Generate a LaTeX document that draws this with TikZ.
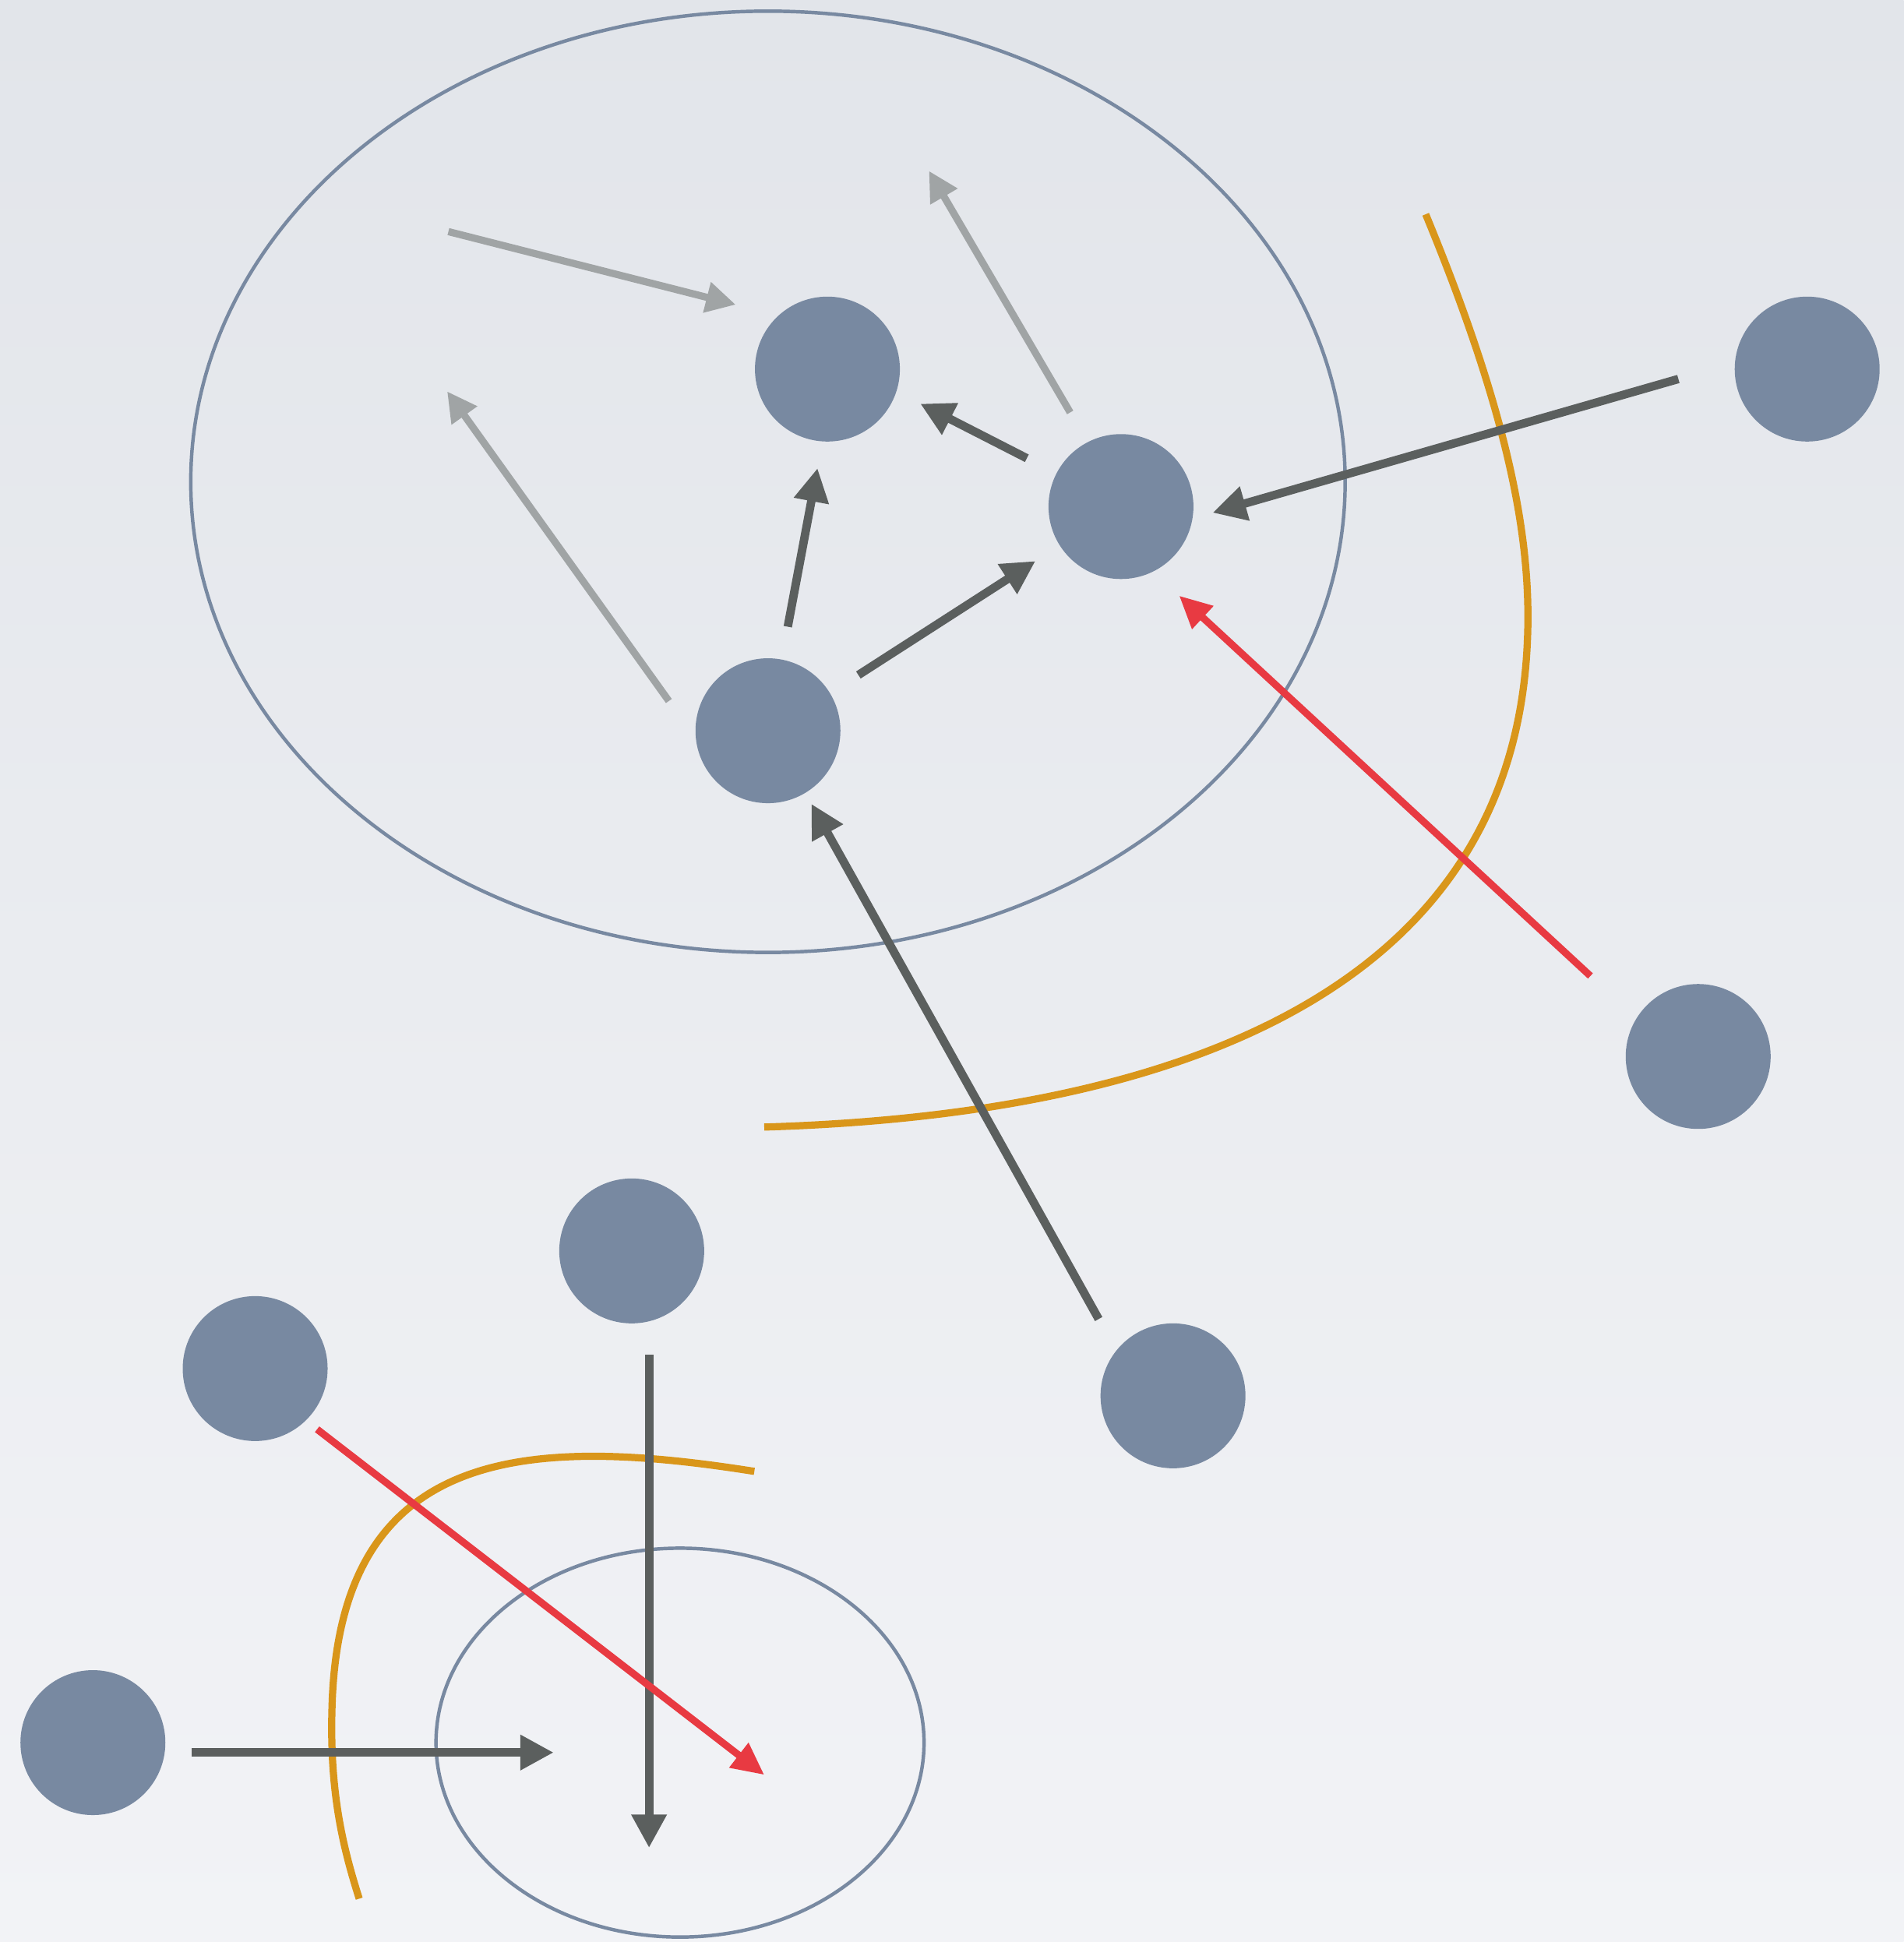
\documentclass[tikz,border=0pt]{standalone}
\usetikzlibrary{arrows.meta}
\definecolor{nodecol}{RGB}{120,137,161}
\definecolor{darkar}{RGB}{91,95,94}
\definecolor{greyar}{RGB}{160,164,165}
\definecolor{redar}{RGB}{232,58,66}
\definecolor{orangec}{RGB}{217,150,26}
\definecolor{bgtop}{RGB}{226,229,234}
\definecolor{bgbot}{RGB}{242,243,246}
\tikzset{
  dot/.style={circle, fill=nodecol, minimum size=117pt, inner sep=0pt, draw=none},
  darkarrow/.style={draw=darkar, line width=6.8pt, -{Triangle[length=27pt,width=27pt]}},
  greyarrow/.style={draw=greyar, line width=5.8pt, -{Triangle[length=24pt,width=24pt]}},
  redarrow/.style={draw=redar, line width=5.8pt, -{Triangle[length=26pt,width=24pt]}},
  bound/.style={draw=orangec, line width=5.8pt},
  region/.style={draw=nodecol, line width=2.8pt},
}
\begin{document}
\begin{tikzpicture}[x=1pt,y=-1pt]
\shade[top color=bgtop, bottom color=bgbot] (0,0) rectangle (1537,1568);
\useasboundingbox (0,0) rectangle (1537,1568);
% regions
\draw[region] (620,389) ellipse [x radius=466, y radius=380];
\draw[region] (549,1407) ellipse [x radius=197, y radius=157];
% nodes
\node[dot] (A) at (668,298) {};
\node[dot] (B) at (905,409) {};
\node[dot] (C) at (620,590) {};
\node[dot] (D) at (1459,298) {};
\node[dot] (E) at (1371,853) {};
\node[dot] (F) at (510,1010) {};
\node[dot] (G) at (206,1105) {};
\node[dot] (H) at (947,1127) {};
\node[dot] (I) at (75,1407) {};
% endpoints
\coordinate (ca1) at (636,506); \coordinate (ca2) at (660,378);
\coordinate (cb1) at (693,545); \coordinate (cb2) at (836,453);
\coordinate (ba1) at (829,370); \coordinate (ba2) at (743,326);
\coordinate (db1) at (1355,306); \coordinate (db2) at (979,414);
\coordinate (hc1) at (887,1065); \coordinate (hc2) at (655,649);
\coordinate (ix1) at (155,1415); \coordinate (ix2) at (447,1415);
\coordinate (fx1) at (524,1094); \coordinate (fx2) at (524,1492);
\coordinate (eb1) at (1284,788); \coordinate (eb2) at (952,481);
\coordinate (gx1) at (256,1154); \coordinate (gx2) at (617,1433);
\coordinate (g11) at (362,187); \coordinate (g12) at (594,246);
\coordinate (g21) at (540,566); \coordinate (g22) at (361,316);
\coordinate (g31) at (864,333); \coordinate (g32) at (750,138);
% grey arrows
\draw[greyarrow] (g11) -- (g12);
\draw[greyarrow] (g21) -- (g22);
\draw[greyarrow] (g31) -- (g32);
% orange boundaries
\draw[bound] (1151,173) .. controls (1220,340) and (1237,440) .. (1233,520)
  .. controls (1220,800) and (950,900) .. (617,910);
\draw[bound] (609,1188) .. controls (420,1158) and (273,1170) .. (268,1380)
  .. controls (266,1450) and (278,1495) .. (290,1533);
% dark arrows
\draw[darkarrow] (ca1) -- (ca2);
\draw[darkarrow] (cb1) -- (cb2);
\draw[darkarrow] (ba1) -- (ba2);
\draw[darkarrow] (db1) -- (db2);
\draw[darkarrow] (hc1) -- (hc2);
\draw[darkarrow] (ix1) -- (ix2);
\draw[darkarrow] (fx1) -- (fx2);
% red arrows
\draw[redarrow] (eb1) -- (eb2);
\draw[redarrow] (gx1) -- (gx2);
\end{tikzpicture}
\end{document}
